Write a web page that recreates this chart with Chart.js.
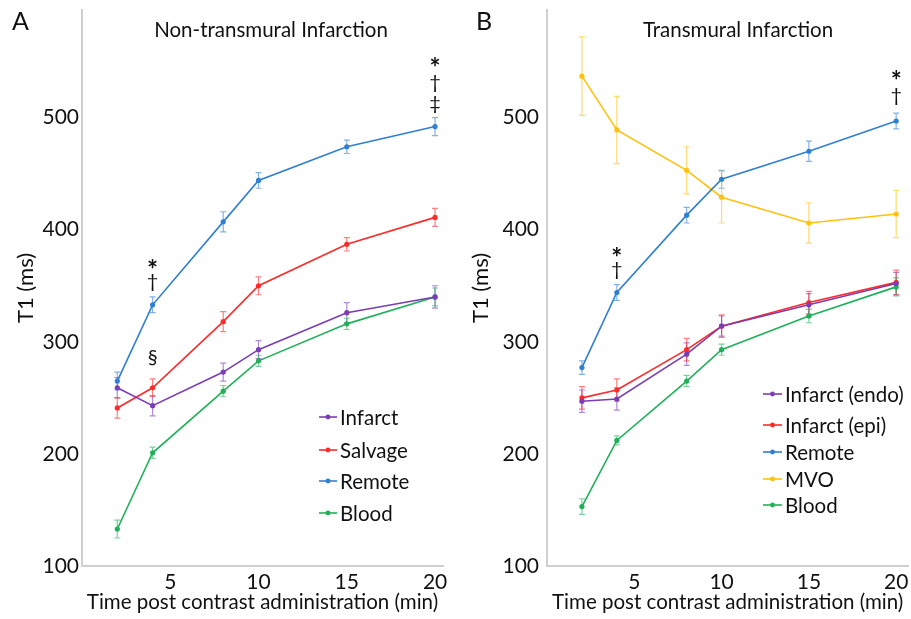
<!DOCTYPE html>
<html><head><meta charset="utf-8">
<script src="https://cdn.jsdelivr.net/npm/chart.js@4/dist/chart.umd.min.js"></script>
<style>
html,body{margin:0;padding:0;background:#fff;width:911px;height:619px;overflow:hidden}
canvas{position:absolute;top:0}
#ca{left:0}
#cb{left:455px}
</style></head><body>
<canvas id="ca" width="455" height="619"></canvas>
<canvas id="cb" width="456" height="619"></canvas>
<script>
// ---- data ----
const times = [2, 4, 8, 10, 15, 20];
const yTickValues = [100, 200, 300, 400, 500];
const xTickValues = [5, 10, 15, 20];

// Panel A: Non-transmural Infarction
const aInfarct    = [259, 243, 273, 293, 326, 340];
const aInfarctErr = [9, 9, 8, 8, 9, 10];
const aSalvage    = [241, 259, 318, 350, 387, 411];
const aSalvageErr = [9, 8, 9, 8, 6, 8];
const aRemote     = [265, 333, 407, 444, 474, 492];
const aRemoteErr  = [8, 7, 9, 7, 6, 8];
const aBlood      = [133, 201, 256, 283, 316, 340];
const aBloodErr   = [8, 5, 5, 5, 5, 8];

// Panel B: Transmural Infarction
const bEndo      = [247, 249, 289, 314, 333, 352];
const bEndoErr   = [10, 10, 10, 9, 10, 10];
const bEpi       = [250, 257, 293, 314, 335, 353];
const bEpiErr    = [10, 10, 10, 10, 10, 11];
const bRemote    = [277, 344, 413, 445, 470, 497];
const bRemoteErr = [6, 7, 7, 8, 9, 7];
const bMVO       = [537, 489, 453, 429, 406, 414];
const bMVOErr    = [35, 30, 21, 23, 18, 21];
const bBlood     = [153, 212, 265, 293, 323, 349];
const bBloodErr  = [7, 4, 5, 5, 6, 8];

const FONT = 'Lato, "Open Sans", sans-serif';
const TXT = '#111';
const C = {purple:'#7a3db5', red:'#ff2a2a', blue:'#2f7fd2', yellow:'#ffc20e', green:'#1fb15a'};

function ds(label, vals, err, color) {
  return {label, data: times.map((t,i)=>({x:t, y:vals[i]})), err, borderColor:color, backgroundColor:color,
    pointRadius:2.6, pointBorderWidth:0, pointHoverRadius:2.6, borderWidth:1.6, tension:0, fill:false};
}

const errorBars = {
  id:'errorBars',
  beforeDatasetsDraw(chart){
    const {ctx, scales:{x,y}} = chart;
    ctx.save();
    chart.data.datasets.forEach(d=>{
      ctx.strokeStyle = d.borderColor; ctx.globalAlpha = 0.6; ctx.lineWidth = 1.2;
      d.data.forEach((p,i)=>{
        const px = x.getPixelForValue(p.x);
        const y1 = y.getPixelForValue(p.y + d.err[i]), y2 = y.getPixelForValue(p.y - d.err[i]);
        ctx.beginPath();
        ctx.moveTo(px, y1); ctx.lineTo(px, y2);
        ctx.moveTo(px-3, y1); ctx.lineTo(px+3, y1);
        ctx.moveTo(px-3, y2); ctx.lineTo(px+3, y2);
        ctx.stroke();
      });
    });
    ctx.restore();
  }
};

const decor = {
  id:'decor',
  afterDraw(chart, args, o){
    const {ctx, scales:{x,y}} = chart;
    ctx.save();
    ctx.fillStyle = TXT;
    // panel letter
    ctx.font = '25px ' + FONT; ctx.textBaseline = 'alphabetic'; ctx.textAlign = 'left';
    ctx.fillText(o.letter, o.letterX, 30);
    // title
    ctx.font = '20.5px ' + FONT; ctx.textAlign = 'center';
    ctx.fillText(o.title, o.titleX, 37);
    // annotations
    ctx.textBaseline = 'middle';
    o.ann.forEach(a=>{
      const d = chart.data.datasets.find(s=>s.label===a.series);
      const idx = times.indexOf(a.t);
      const px = x.getPixelForValue(a.t), py = y.getPixelForValue(d.data[idx].y);
      const n = a.marks.length;
      a.marks.forEach((m,k)=>{
        const fromBottom = n-1-k;
        let yy = py - a.base - fromBottom*a.gap;
        if (m === '*') { ctx.font = 'bold 26px ' + FONT; yy += 7; }
        else ctx.font = '20px ' + FONT;
        ctx.fillText(m, px, yy);
      });
    });
    // legend
    ctx.font = '20.5px ' + FONT; ctx.textAlign = 'left'; ctx.textBaseline = 'middle';
    chart.data.datasets.forEach((d,i)=>{
      const ly = o.legY[i];
      ctx.strokeStyle = d.borderColor; ctx.lineWidth = 1.6;
      ctx.beginPath(); ctx.moveTo(o.legX, ly); ctx.lineTo(o.legX + o.legW, ly); ctx.stroke();
      ctx.fillStyle = d.borderColor;
      ctx.beginPath(); ctx.arc(o.legX + o.legW/2, ly, 2.4, 0, Math.PI*2); ctx.fill();
      ctx.fillStyle = TXT;
      ctx.fillText(d.label, o.legX + o.legW + 3, ly + 1);
    });
    ctx.restore();
  }
};

function options(p) {
  return {
    responsive:false, animation:false, devicePixelRatio:1,
    layout:{padding:{left:0, top:10, right:p.padRight, bottom:0}},
    plugins:{legend:{display:false}, tooltip:{enabled:false}, decor:p.decor},
    scales:{
      x:{type:'linear', min:0, max:p.xMax,
        border:{color:'#cfcfcf', width:2},
        grid:{display:false, drawTicks:false},
        ticks:{font:{family:FONT, size:21}, color:TXT, padding:4, maxRotation:0},
        afterBuildTicks:s=>{s.ticks = xTickValues.map(v=>({value:v}));},
        afterFit:s=>{s.height = 53; s.paddingLeft = 0; s.paddingRight = 0;},
        title:{display:true, text:'Time post contrast administration (min)', color:TXT,
          font:{family:FONT, size:20.5}, padding:{top:0, bottom:4}}
      },
      y:{type:'linear', min:100, max:596,
        border:{color:'#cfcfcf', width:2},
        grid:{display:false, drawTicks:false},
        ticks:{font:{family:FONT, size:21}, color:TXT, padding:p.yPad},
        afterBuildTicks:s=>{s.ticks = yTickValues.map(v=>({value:v}));},
        afterFit:s=>{s.width = p.yWidth; s.paddingTop = 0; s.paddingBottom = 0;},
        title:{display:true, text:'T1 (ms)', color:TXT, font:{family:FONT, size:22}, padding:{top:13, bottom:0}}
      }
    }
  };
}

new Chart(document.getElementById('ca'), {
  type:'line',
  data:{datasets:[
    ds('Infarct', aInfarct, aInfarctErr, C.purple),
    ds('Salvage', aSalvage, aSalvageErr, C.red),
    ds('Remote', aRemote, aRemoteErr, C.blue),
    ds('Blood', aBlood, aBloodErr, C.green)
  ]},
  options:options({padRight:12, xMax:20.45, yWidth:82, yPad:3, decor:{
    letter:'A', letterX:12, title:'Non-transmural Infarction', titleX:271,
    legX:319, legW:18, legY:[417,450,481,513],
    ann:[
      {t:4, series:'Remote', marks:['*','†'], base:23, gap:18},
      {t:4, series:'Salvage', marks:['§'], base:30, gap:18},
      {t:20, series:'Remote', marks:['*','†','‡'], base:23, gap:21}
    ]}}),
  plugins:[errorBars, decor]
});

new Chart(document.getElementById('cb'), {
  type:'line',
  data:{datasets:[
    ds('Infarct (endo)', bEndo, bEndoErr, C.purple),
    ds('Infarct (epi)', bEpi, bEpiErr, C.red),
    ds('Remote', bRemote, bRemoteErr, C.blue),
    ds('MVO', bMVO, bMVOErr, C.yellow),
    ds('Blood', bBlood, bBloodErr, C.green)
  ]},
  options:options({padRight:0, xMax:20.7, yWidth:92, yPad:8, decor:{
    letter:'B', letterX:21, title:'Transmural Infarction', titleX:283,
    legX:308, legW:19, legY:[394,425,452,479,505],
    ann:[
      {t:4, series:'Remote', marks:['*','†'], base:23, gap:18},
      {t:20, series:'Remote', marks:['*','†'], base:25, gap:21}
    ]}}),
  plugins:[errorBars, decor]
});
</script>
</body></html>
